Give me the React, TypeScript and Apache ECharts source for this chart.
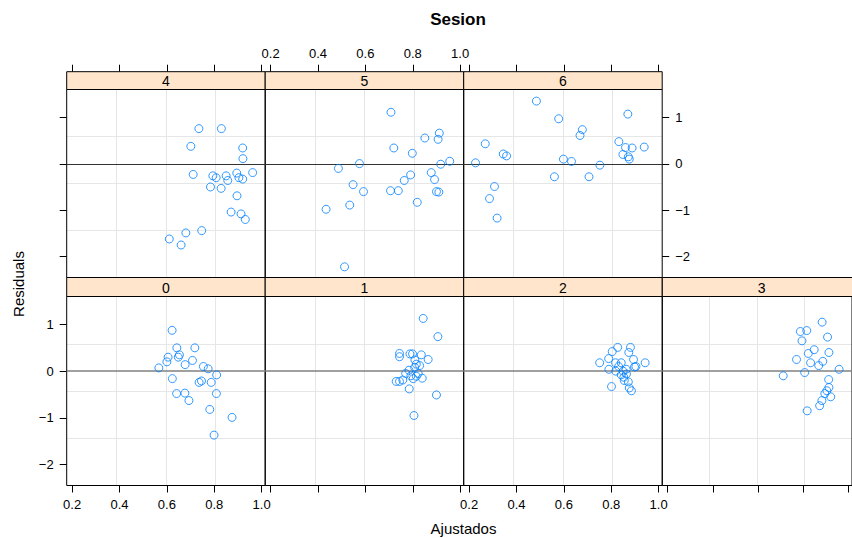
import React, { useEffect, useRef } from "react";
import * as echarts from "echarts";

// Session labels shown in each panel's strip
const sessions = ["0", "1", "2", "3", "4", "5", "6"];

// Axis tick positions
const xTicks = [0.2, 0.4, 0.6, 0.8, 1.0];
const yTicks = [-2, -1, 0, 1];

// Fitted values (Ajustados) and residuals per session
const fitted0 = [0.622, 0.642, 0.718, 0.605, 0.653, 0.648, 0.6, 0.708, 0.677, 0.566, 0.754, 0.774, 0.81, 0.623, 0.746, 0.736, 0.787, 0.641, 0.676, 0.809, 0.693, 0.781, 0.875, 0.799];
const resid0 = [0.875, 0.5, 0.5, 0.3, 0.35, 0.3, 0.2, 0.23, 0.14, 0.07, 0.1, 0.05, -0.08, -0.16, -0.21, -0.24, -0.24, -0.48, -0.47, -0.48, -0.63, -0.82, -0.99, -1.37];

const fitted1 = [0.844, 0.906, 0.744, 0.744, 0.788, 0.799, 0.836, 0.865, 0.809, 0.815, 0.829, 0.808, 0.784, 0.77, 0.823, 0.792, 0.815, 0.84, 0.802, 0.73, 0.744, 0.758, 0.785, 0.9, 0.805];
const resid1 = [1.13, 0.74, 0.38, 0.31, 0.37, 0.37, 0.35, 0.25, 0.24, 0.15, 0.12, 0.08, 0.02, -0.05, -0.05, -0.1, -0.11, -0.15, -0.16, -0.22, -0.22, -0.19, -0.38, -0.51, -0.95];

const fitted2 = [0.827, 0.881, 0.804, 0.874, 0.789, 0.894, 0.751, 0.943, 0.818, 0.842, 0.904, 0.898, 0.831, 0.863, 0.79, 0.819, 0.85, 0.864, 0.842, 0.853, 0.855, 0.872, 0.801, 0.876, 0.885];
const resid2 = [0.51, 0.51, 0.42, 0.4, 0.27, 0.25, 0.18, 0.18, 0.18, 0.18, 0.1, 0.09, 0.1, 0.04, 0.04, 0.0, 0.0, -0.06, -0.08, -0.13, -0.2, -0.23, -0.33, -0.36, -0.42];

const fitted3 = [0.883, 0.787, 0.815, 0.907, 0.794, 0.848, 0.913, 0.822, 0.77, 0.832, 0.886, 0.868, 0.958, 0.806, 0.711, 0.912, 0.913, 0.904, 0.895, 0.921, 0.882, 0.872, 0.817];
const resid3 = [1.05, 0.85, 0.87, 0.73, 0.65, 0.46, 0.4, 0.38, 0.25, 0.18, 0.21, 0.12, 0.04, -0.03, -0.1, -0.18, -0.35, -0.42, -0.48, -0.55, -0.63, -0.74, -0.85];

const fitted4 = [0.735, 0.83, 0.701, 0.92, 0.921, 0.711, 0.794, 0.808, 0.85, 0.857, 0.895, 0.904, 0.92, 0.962, 0.784, 0.829, 0.896, 0.871, 0.913, 0.931, 0.747, 0.68, 0.61, 0.66];
const resid4 = [0.757, 0.757, 0.376, 0.34, 0.11, -0.23, -0.26, -0.3, -0.26, -0.36, -0.2, -0.3, -0.33, -0.19, -0.5, -0.53, -0.69, -1.04, -1.08, -1.2, -1.44, -1.49, -1.62, -1.75];

const fitted5 = [0.708, 0.912, 0.851, 0.907, 0.72, 0.798, 0.575, 0.486, 0.918, 0.956, 0.878, 0.791, 0.764, 0.892, 0.548, 0.592, 0.706, 0.739, 0.9, 0.91, 0.819, 0.534, 0.434, 0.512];
const resid5 = [1.11, 0.66, 0.555, 0.527, 0.34, 0.226, 0.004, -0.1, -0.01, 0.054, -0.19, -0.24, -0.36, -0.34, -0.45, -0.6, -0.58, -0.58, -0.6, -0.61, -0.83, -0.89, -0.98, -2.22];

const fitted6 = [0.484, 0.87, 0.578, 0.678, 0.668, 0.832, 0.268, 0.86, 0.888, 0.939, 0.344, 0.358, 0.849, 0.872, 0.876, 0.227, 0.598, 0.632, 0.752, 0.56, 0.706, 0.307, 0.286, 0.318];
const resid6 = [1.35, 1.07, 0.97, 0.735, 0.61, 0.477, 0.43, 0.35, 0.34, 0.36, 0.21, 0.17, 0.2, 0.15, 0.1, 0.02, 0.1, 0.05, -0.03, -0.28, -0.28, -0.49, -0.75, -1.17];

const fittedBySession = [fitted0, fitted1, fitted2, fitted3, fitted4, fitted5, fitted6];
const residBySession = [resid0, resid1, resid2, resid3, resid4, resid5, resid6];

// Panel layout (lattice-style 4 x 2 arrangement, session 0 bottom-left)
const X_MIN = 0.177;
const X_MAX = 1.015;
const Y_MIN = -2.45;
const Y_MAX = 1.6;
const COL_LEFT = [66.7, 265.2, 463.7, 662.3];
const PANEL_W = 198.5;
const ROWS = {
  top: { stripTop: 71.7, panelTop: 89.5, panelH: 188 },
  bottom: { stripTop: 277.5, panelTop: 296.5, panelH: 189 },
};
const FONT = "'Liberation Sans', Arial, Helvetica, sans-serif";
const POINT_COLOR = "#0080ff";
const STRIP_BG = "#ffe5cc";

const fmtX = (v: number) => v.toFixed(1);
const fmtY = (v: number) => (v < 0 ? "\u2212" + Math.abs(v) : String(v));

function panelBox(i: number) {
  const isTop = i >= 4;
  const row = isTop ? ROWS.top : ROWS.bottom;
  const col = isTop ? i - 4 : i;
  return { isTop, left: COL_LEFT[col], ...row };
}

function buildOption() {
  const grid: any[] = [];
  const xAxis: any[] = [];
  const yAxis: any[] = [];
  const series: any[] = [];
  const graphic: any[] = [];

  sessions.forEach((s, i) => {
    const b = panelBox(i);
    grid.push({
      left: b.left,
      top: b.panelTop,
      width: PANEL_W,
      height: b.panelH,
      show: true,
      borderColor: "#000",
      borderWidth: 1,
      backgroundColor: "transparent",
      z: 3,
    });

    const showXLabel = b.isTop ? i === 5 : i === 0 || i === 2;
    xAxis.push({
      gridIndex: i,
      type: "value",
      min: X_MIN,
      max: X_MAX,
      position: b.isTop ? "top" : "bottom",
      offset: b.isTop ? b.panelTop - b.stripTop : 0,
      axisLine: { show: false, onZero: false },
      axisTick: {
        show: true,
        inside: false,
        length: 7,
        customValues: xTicks,
        lineStyle: { color: "#000", width: 1 },
      },
      axisLabel: {
        show: showXLabel,
        customValues: xTicks,
        formatter: fmtX,
        fontSize: 13,
        fontFamily: FONT,
        color: "#000",
        margin: 12,
      },
      splitLine: { show: false },
    });

    const yTicksShown = i === 0 || i === 4 || i === 6;
    const yLabelShown = i === 0 || i === 6;
    yAxis.push({
      gridIndex: i,
      type: "value",
      min: Y_MIN,
      max: Y_MAX,
      position: i === 6 ? "right" : "left",
      axisLine: { show: false, onZero: false },
      axisTick: {
        show: yTicksShown,
        inside: false,
        length: 7,
        customValues: yTicks,
        lineStyle: { color: "#000", width: 1 },
      },
      axisLabel: {
        show: yLabelShown,
        customValues: yTicks,
        formatter: fmtY,
        fontSize: 13,
        fontFamily: FONT,
        color: "#000",
        margin: 13,
      },
      splitLine: { show: false },
    });

    // strip with the session label
    graphic.push({
      type: "rect",
      shape: { x: b.left, y: b.stripTop, width: PANEL_W, height: b.panelTop - b.stripTop },
      style: { fill: STRIP_BG, stroke: "#000", lineWidth: 1 },
      z: 10,
    });
    graphic.push({
      type: "text",
      x: b.left + PANEL_W / 2,
      y: (b.stripTop + b.panelTop) / 2 + 0.5,
      style: {
        text: s,
        fontSize: 14,
        fontFamily: FONT,
        fill: "#000",
        align: "center",
        verticalAlign: "middle",
      },
      z: 11,
    });

    series.push({
      type: "scatter",
      xAxisIndex: i,
      yAxisIndex: i,
      data: fittedBySession[i].map((f, k) => [f, residBySession[i][k]]),
      symbol: "circle",
      symbolSize: 8,
      itemStyle: { color: "rgba(0,0,0,0)", borderColor: POINT_COLOR, borderWidth: 1 },
      silent: true,
      z: 4,
      markLine: {
        silent: true,
        symbol: "none",
        label: { show: false },
        lineStyle: b.isTop
          ? { color: "#333", width: 1, type: "solid" }
          : { color: "#808080", width: 1.6, type: "solid" },
        data: [{ yAxis: 0 }],
        z: 3,
      },
    });
  });

  // light background grid: three evenly spaced lines across each panel
  sessions.forEach((_, i) => {
    const b = panelBox(i);
    const gridLine = { show: true, showMinLine: false, showMaxLine: false, lineStyle: { color: "#e6e6e6", width: 1 } };
    xAxis.push({
      gridIndex: i,
      type: "value",
      min: 0,
      max: 4,
      interval: 1,
      position: b.isTop ? "bottom" : "top",
      axisLine: { show: false, onZero: false },
      axisTick: { show: false },
      axisLabel: { show: false },
      splitLine: gridLine,
    });
    yAxis.push({
      gridIndex: i,
      type: "value",
      min: 0,
      max: 4,
      interval: 1,
      position: i === 6 ? "left" : "right",
      axisLine: { show: false, onZero: false },
      axisTick: { show: false },
      axisLabel: { show: false },
      splitLine: gridLine,
    });
  });

  graphic.push(
    {
      type: "text",
      x: 458,
      y: 19,
      style: {
        text: "Sesion",
        fontSize: 17,
        fontWeight: "bold",
        fontFamily: FONT,
        fill: "#000",
        align: "center",
        verticalAlign: "middle",
      },
    },
    {
      type: "text",
      x: 463.5,
      y: 528,
      style: {
        text: "Ajustados",
        fontSize: 15,
        fontFamily: FONT,
        fill: "#000",
        align: "center",
        verticalAlign: "middle",
      },
    },
    {
      type: "text",
      x: 18,
      y: 284,
      rotation: Math.PI / 2,
      style: {
        text: "Residuals",
        fontSize: 15,
        fontFamily: FONT,
        fill: "#000",
        align: "center",
        verticalAlign: "middle",
      },
    }
  );

  return {
    animation: false,
    backgroundColor: "#fff",
    grid,
    xAxis,
    yAxis,
    series,
    graphic,
  };
}

export default function App() {
  const ref = useRef<HTMLDivElement>(null);
  useEffect(() => {
    if (!ref.current) return;
    const chart = echarts.init(ref.current, undefined, { renderer: "svg" });
    chart.setOption(buildOption() as any);
    return () => chart.dispose();
  }, []);
  return (
    <div
      ref={ref}
      style={{ position: "fixed", left: 0, top: 0, width: 852, height: 538, overflow: "hidden" }}
    />
  );
}
